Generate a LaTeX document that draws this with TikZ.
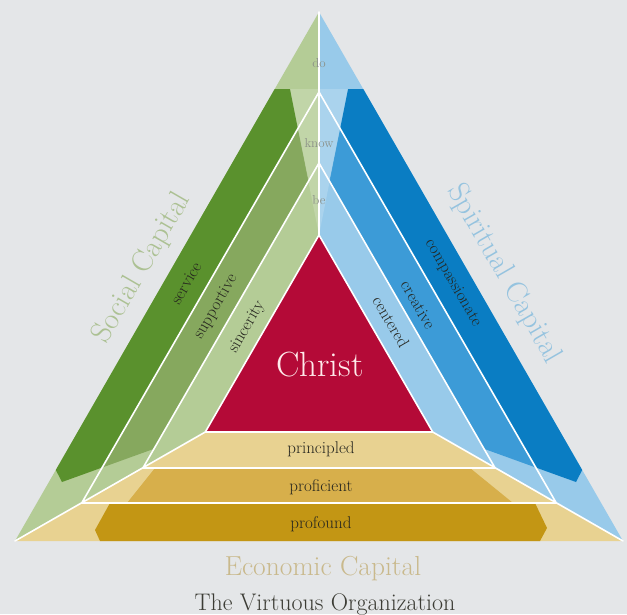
\documentclass[tikz,border=0pt]{standalone}
\usepackage{tikz}
\definecolor{paper}{HTML}{E4E6E8}
\definecolor{dkgreen}{HTML}{5A912D}
\definecolor{mdgreen}{HTML}{86A85E}
\definecolor{ltgreen}{HTML}{B4CC96}
\definecolor{dkblue}{HTML}{0A7DC3}
\definecolor{mdblue}{HTML}{3C9BD7}
\definecolor{ltblue}{HTML}{98CAEA}
\definecolor{dkgold}{HTML}{C39614}
\definecolor{mdgold}{HTML}{D7AF4B}
\definecolor{ltgold}{HTML}{E8D291}
\definecolor{crimson}{HTML}{B40A37}
\definecolor{inkgray}{HTML}{26261F}
\definecolor{nestgray}{HTML}{8B9087}
\tikzstyle{every node}=[inner sep=0pt]
\tikzstyle{every path}=[line cap=round,line join=round]
\tikzstyle{rim}=[draw=white,line width=1.6pt]
\tikzstyle{band}=[font=\fontsize{17}{20}\selectfont,text=inkgray]
\tikzstyle{nest}=[font=\fontsize{13}{15}\selectfont,text=nestgray]
\tikzstyle{capital}=[font=\fontsize{30}{34}\selectfont]

\begin{document}
\begin{tikzpicture}[x=1pt,y=-1pt]
  \fill[paper] (0,0) rectangle (627,614);
  % the four nested triangles
  \coordinate (A0) at (319,12);  \coordinate (L0) at (15,541);    \coordinate (R0) at (623,541);
  \coordinate (A1) at (319,92);  \coordinate (L1) at (81.7,503);  \coordinate (R1) at (556.3,503);
  \coordinate (A2) at (319,163); \coordinate (L2) at (142.9,468); \coordinate (R2) at (495.1,468);
  \coordinate (A3) at (319,235); \coordinate (L3) at (205.3,432); \coordinate (R3) at (432.7,432);

  % light sides
  \fill[ltgreen] (A0)--(L0)--(L3)--(A3)--cycle;
  \fill[ltblue] (A0)--(R0)--(R3)--(A3)--cycle;
  \fill[ltgold] (L0)--(R0)--(R3)--(L3)--cycle;
  % darker bands
  \fill[dkgreen] (274.7,89)--(290,89)--(297.9,128.6)--(102.2,467.5)--(62,482)--(55.8,470)--cycle;
  \fill[mdgreen] (297.9,128.6)--(308.6,181.4)--(154,448.8)--(102.2,467.5)--cycle;
  \fill[dkblue] (363.3,89)--(348,89)--(340.1,128.6)--(535.8,467.5)--(576,482)--(582.2,470)--cycle;
  \fill[mdblue] (340.1,128.6)--(329.4,181.4)--(484,448.8)--(535.8,467.5)--cycle;
  \fill[dkgold] (110,503)--(535,503)--(547,528)--(540,541)--(100,541)--(95,530)--cycle;
  \fill[mdgold] (127,503)--(155,468)--(470,468)--(513,503)--cycle;
  \fill[white,opacity=.18] (290,89)--(A3)--(348,89)--cycle;
  \fill[crimson] (A3)--(L3)--(R3)--cycle;

  \draw[rim] (A1)--(L1)--(R1)--cycle (A2)--(L2)--(R2)--cycle (A3)--(L3)--(R3)--cycle
    (A0)--(A3) (L0)--(L3) (R0)--(R3);

  \node[nest] (do) at (319,63) {do};
  \node[nest] (know) at (319,143) {know};
  \node[nest] (be) at (319,200) {be};

  \node[band,rotate=60] (service) at (186,283) {service};
  \node[band,rotate=60] (supportive) at (216,307) {supportive};
  \node[band,rotate=60] (sincerity) at (247,327) {sincerity};
  \node[band,rotate=-60] (compassionate) at (453,283) {compassionate};
  \node[band,rotate=-60] (creative) at (418,305) {creative};
  \node[band,rotate=-60] (centered) at (391,322) {centered};
  \node[band] (principled) at (321,449) {principled};
  \node[band] (proficient) at (321,487) {proficient};
  \node[band] (profound) at (321,524) {profound};

  \node[font=\fontsize{35}{40}\selectfont,text=red!8] (christ) at (320,365) {Christ};
  \node[capital,rotate=60,text=ltgreen!85!gray] (social) at (142,268) {Social Capital};
  \node[capital,rotate=-60,text=ltblue!90!gray] (spiritual) at (504,274) {Spiritual Capital};
  \node[font=\fontsize{27.5}{30}\selectfont,text=ltgold!70!gray,anchor=base] (economic) at (323,575) {Economic Capital};
  \node[font=\fontsize{24}{27}\selectfont,text=inkgray!90,anchor=base] (virtuous) at (325,610) {The Virtuous Organization};
\end{tikzpicture}
\end{document}
